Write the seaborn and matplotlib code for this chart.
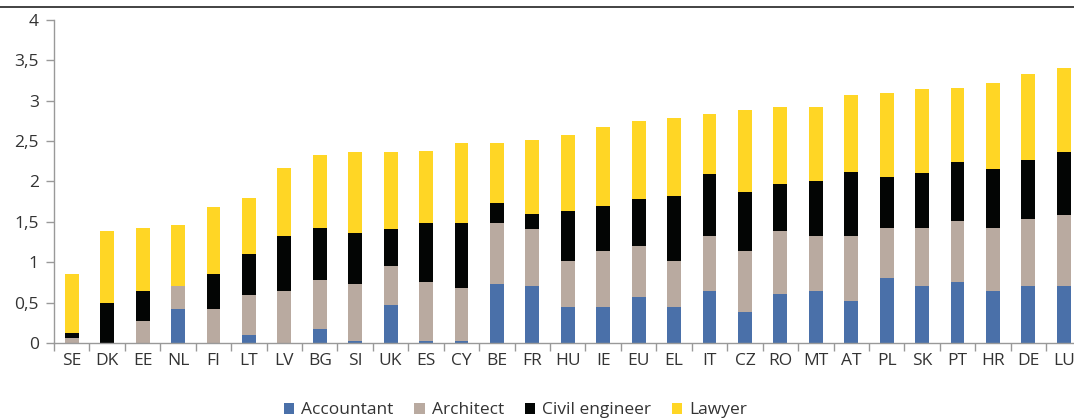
import numpy as np
import seaborn as sns
import matplotlib.pyplot as plt
from matplotlib.patches import Patch
from matplotlib.lines import Line2D

countries = ['SE', 'DK', 'EE', 'NL', 'FI', 'LT', 'LV', 'BG', 'SI', 'UK', 'ES', 'CY', 'BE', 'FR',
             'HU', 'IE', 'EU', 'EL', 'IT', 'CZ', 'RO', 'MT', 'AT', 'PL', 'SK', 'PT', 'HR', 'DE', 'LU']
accountant = [0, 0, 0, 0.42, 0, 0.10, 0, 0.17, 0.03, 0.47, 0.03, 0.03, 0.73, 0.71,
              0.44, 0.44, 0.57, 0.44, 0.64, 0.39, 0.61, 0.64, 0.52, 0.81, 0.71, 0.76, 0.64, 0.71, 0.71]
architect = [0.06, 0, 0.27, 0.29, 0.42, 0.49, 0.64, 0.61, 0.70, 0.48, 0.72, 0.65, 0.76, 0.70,
             0.58, 0.70, 0.63, 0.58, 0.68, 0.75, 0.78, 0.68, 0.80, 0.61, 0.72, 0.75, 0.78, 0.82, 0.87]
civil_engineer = [0.07, 0.49, 0.37, 0, 0.43, 0.51, 0.68, 0.65, 0.63, 0.46, 0.73, 0.80, 0.24, 0.19,
                  0.61, 0.56, 0.58, 0.80, 0.77, 0.73, 0.58, 0.68, 0.80, 0.63, 0.68, 0.73, 0.73, 0.73, 0.78]
lawyer = [0.72, 0.90, 0.79, 0.75, 0.83, 0.70, 0.85, 0.90, 1.00, 0.95, 0.90, 1.00, 0.75, 0.92,
          0.94, 0.97, 0.97, 0.97, 0.75, 1.02, 0.95, 0.92, 0.95, 1.05, 1.04, 0.92, 1.07, 1.07, 1.04]

series = ['Accountant', 'Architect', 'Civil engineer', 'Lawyer']
colors = ['#4a70a9', '#b9aaa0', '#030504', '#ffd625']

sns.set_style('white')
plt.rcParams['font.family'] = ['Open Sans', 'DejaVu Sans']

fig = plt.figure(figsize=(10.74, 4.18), dpi=100)
ax = fig.add_axes([0.0503, 0.1794, 0.9567, 0.7728])

# stacked bars drawn as overlapping cumulative totals, tallest first
stack = np.cumsum(np.array([accountant, architect, civil_engineer, lawyer]), axis=0)
for i in range(3, -1, -1):
    sns.barplot(x=countries, y=stack[i], color=colors[i], width=0.39,
                saturation=1, ax=ax, linewidth=0)

ax.set_ylim(0, 4)
ax.set_xlim(-0.5, len(countries) - 0.5)
ax.set_yticks(np.arange(0, 4.01, 0.5))
ax.set_yticklabels([('%g' % v).replace('.', ',') for v in np.arange(0, 4.01, 0.5)])
ax.set_xticks(np.arange(len(countries)), minor=False)
ax.set_xticklabels(countries)
ax.set_xticks(np.arange(-0.5, len(countries)), minor=True)
ax.tick_params(axis='x', which='major', length=0, pad=7, labelsize=12.5, colors='#333333')
ax.tick_params(axis='x', which='minor', length=6, width=1, color='#999999', direction='out', bottom=True)
ax.tick_params(axis='y', length=6, width=1, color='#999999', direction='out', left=True,
               labelsize=12.5, labelcolor='#333333', pad=5)
ax.set_xlabel('')
ax.set_ylabel('')

for s in ['top', 'right']:
    ax.spines[s].set_visible(False)
for s in ['left', 'bottom']:
    ax.spines[s].set_color('#999999')
    ax.spines[s].set_linewidth(1)

handles = [Patch(facecolor=c, edgecolor='none', label=l) for c, l in zip(colors, series)]
fig.legend(handles=handles, loc='center', bbox_to_anchor=(0.48, 0.018), ncol=4, frameon=False,
           fontsize=12.5, handlelength=0.6, handleheight=0.6, handletextpad=0.4, columnspacing=1.2,
           labelcolor='#333333')

# thin rule along the top of the figure
fig.add_artist(Line2D([0, 1], [0.983, 0.983], transform=fig.transFigure, color='#222222', linewidth=1.2))

fig.savefig('out.png', dpi=100)
